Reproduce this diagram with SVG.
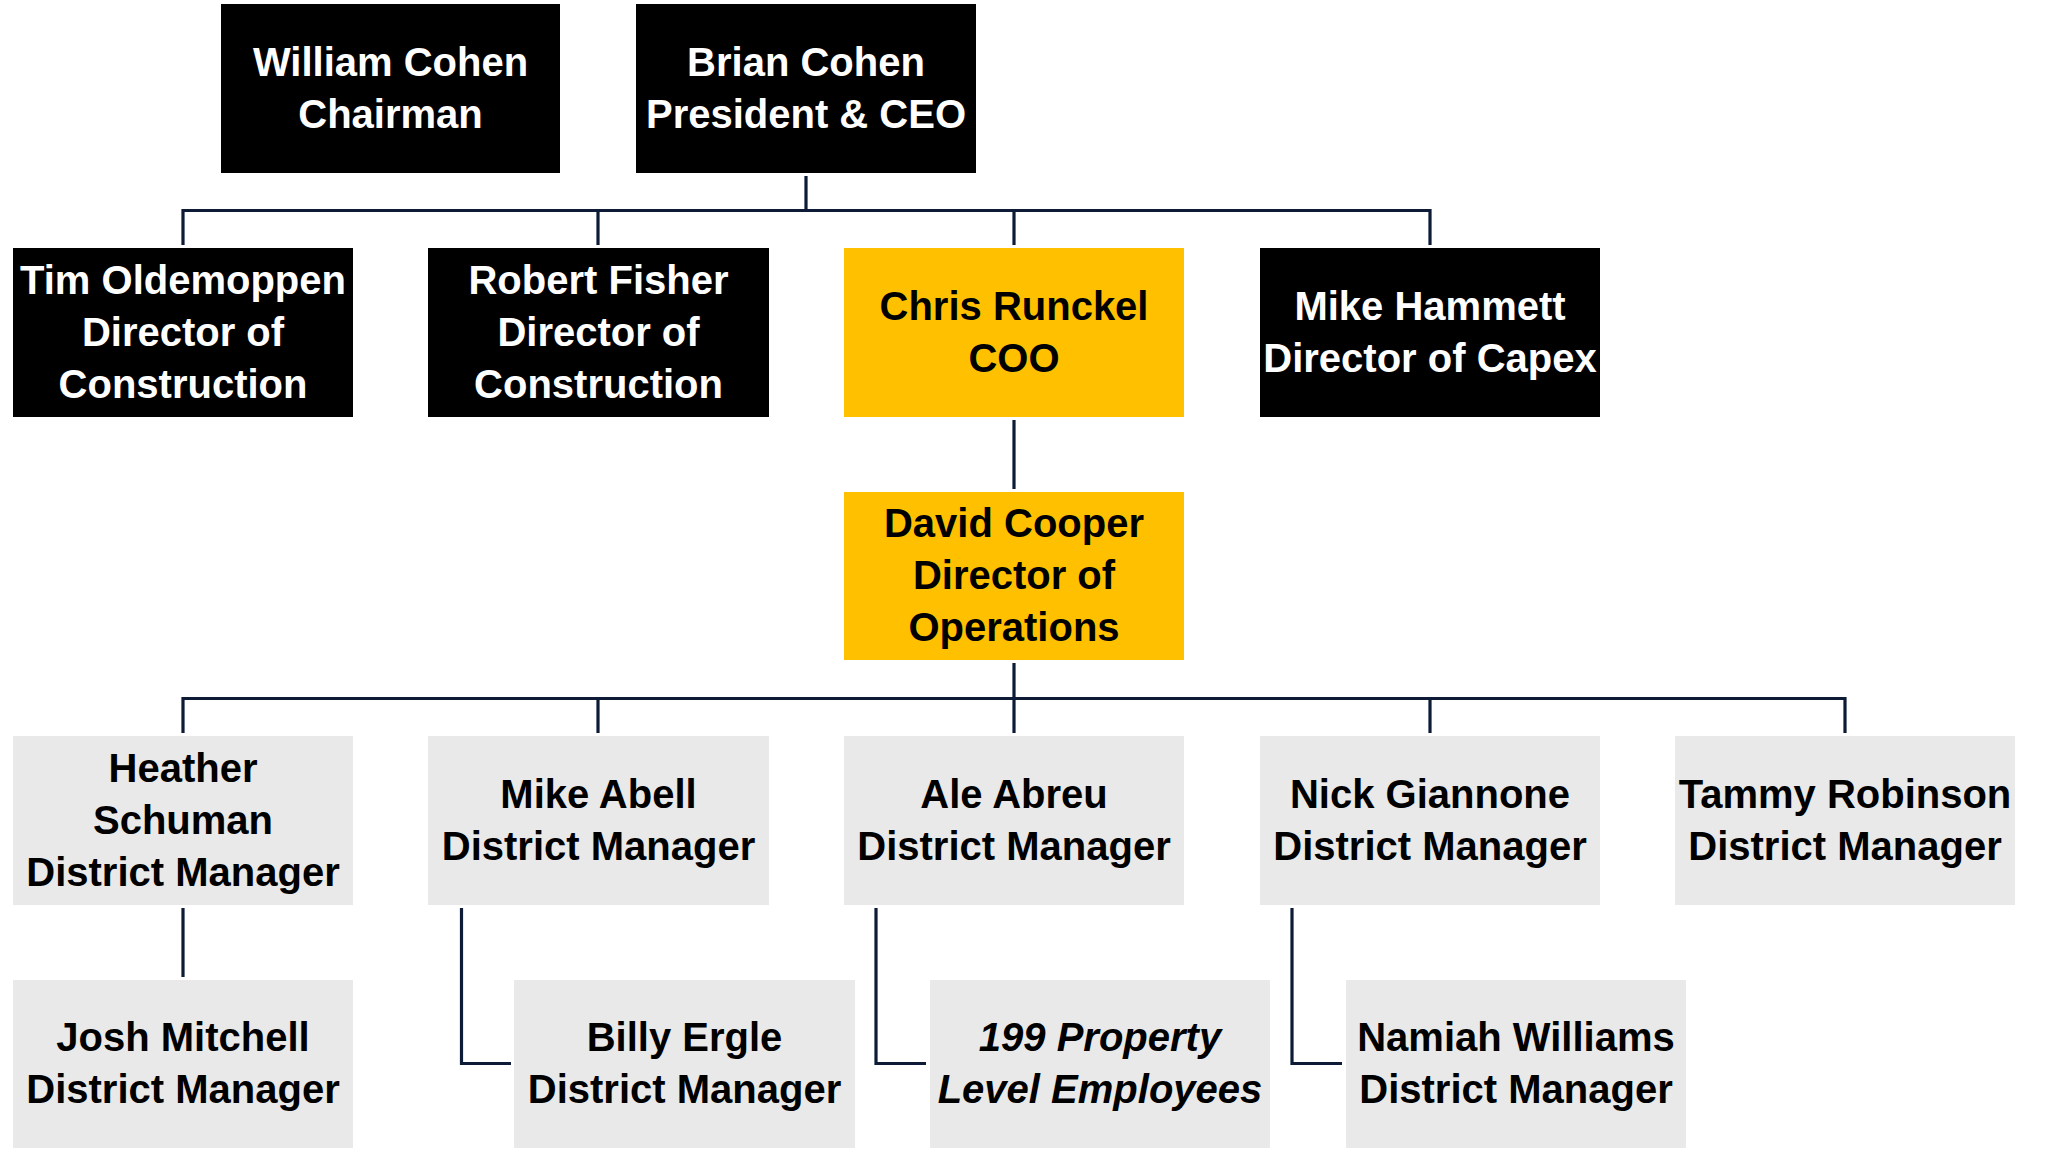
<svg xmlns="http://www.w3.org/2000/svg" width="2049" height="1152" viewBox="0 0 2049 1152">
<style>
.box{stroke:none}
.blk{fill:#000000}
.gold{fill:#FFC000}
.gray{fill:#E9E9E9}
text{font-family:"Liberation Sans",Arial,sans-serif;font-weight:bold;font-size:40px;text-anchor:middle}
.w{fill:#FFFFFF}
.k{fill:#000000}
.it{font-style:italic}
.conn{fill:none;stroke:#0D1B36;stroke-width:3.2;stroke-linejoin:miter;stroke-linecap:butt}
</style>
<rect width="2049" height="1152" fill="#FFFFFF"/>
<g id="connectors" class="conn">
<path d="M806,176 V210.5"/>
<path d="M183,245 V210.5 H1430 V245"/>
<path d="M598,210.5 V245"/>
<path d="M1014,210.5 V245"/>
<path d="M1014,420 V489"/>
<path d="M1014,663 V733"/>
<path d="M183,733 V698.5 H1845 V733"/>
<path d="M598,698.5 V733"/>
<path d="M1430,698.5 V733"/>
<path d="M183,908 V977"/>
<path d="M461.5,908 V1063.5 H511"/>
<path d="M876,908 V1063.5 H926"/>
<path d="M1292,908 V1063.5 H1342"/>
</g>
<g id="william">
<rect class="box blk" x="221" y="4" width="339" height="169"/>
<text class="w" x="390.5" y="75.5">William Cohen</text>
<text class="w" x="390.5" y="127.5">Chairman</text>
</g>
<g id="brian">
<rect class="box blk" x="636" y="4" width="340" height="169"/>
<text class="w" x="806" y="75.5">Brian Cohen</text>
<text class="w" x="806" y="127.5">President &amp; CEO</text>
</g>
<g id="tim">
<rect class="box blk" x="13" y="248" width="340" height="169"/>
<text class="w" x="183" y="293.5">Tim Oldemoppen</text>
<text class="w" x="183" y="345.5">Director of</text>
<text class="w" x="183" y="397.5">Construction</text>
</g>
<g id="robert">
<rect class="box blk" x="428" y="248" width="341" height="169"/>
<text class="w" x="598.5" y="293.5">Robert Fisher</text>
<text class="w" x="598.5" y="345.5">Director of</text>
<text class="w" x="598.5" y="397.5">Construction</text>
</g>
<g id="chris">
<rect class="box gold" x="844" y="248" width="340" height="169"/>
<text class="k" x="1014" y="319.5">Chris Runckel</text>
<text class="k" x="1014" y="371.5">COO</text>
</g>
<g id="mike-hammett">
<rect class="box blk" x="1260" y="248" width="340" height="169"/>
<text class="w" x="1430" y="319.5">Mike Hammett</text>
<text class="w" x="1430" y="371.5">Director of Capex</text>
</g>
<g id="david">
<rect class="box gold" x="844" y="492" width="340" height="168"/>
<text class="k" x="1014" y="537">David Cooper</text>
<text class="k" x="1014" y="589">Director of</text>
<text class="k" x="1014" y="641">Operations</text>
</g>
<g id="heather">
<rect class="box gray" x="13" y="736" width="340" height="169"/>
<text class="k" x="183" y="781.5">Heather</text>
<text class="k" x="183" y="833.5">Schuman</text>
<text class="k" x="183" y="885.5">District Manager</text>
</g>
<g id="mike-abell">
<rect class="box gray" x="428" y="736" width="341" height="169"/>
<text class="k" x="598.5" y="807.5">Mike Abell</text>
<text class="k" x="598.5" y="859.5">District Manager</text>
</g>
<g id="ale">
<rect class="box gray" x="844" y="736" width="340" height="169"/>
<text class="k" x="1014" y="807.5">Ale Abreu</text>
<text class="k" x="1014" y="859.5">District Manager</text>
</g>
<g id="nick">
<rect class="box gray" x="1260" y="736" width="340" height="169"/>
<text class="k" x="1430" y="807.5">Nick Giannone</text>
<text class="k" x="1430" y="859.5">District Manager</text>
</g>
<g id="tammy">
<rect class="box gray" x="1675" y="736" width="340" height="169"/>
<text class="k" x="1845" y="807.5">Tammy Robinson</text>
<text class="k" x="1845" y="859.5">District Manager</text>
</g>
<g id="josh">
<rect class="box gray" x="13" y="980" width="340" height="168"/>
<text class="k" x="183" y="1051">Josh Mitchell</text>
<text class="k" x="183" y="1103">District Manager</text>
</g>
<g id="billy">
<rect class="box gray" x="514" y="980" width="341" height="168"/>
<text class="k" x="684.5" y="1051">Billy Ergle</text>
<text class="k" x="684.5" y="1103">District Manager</text>
</g>
<g id="property">
<rect class="box gray" x="930" y="980" width="340" height="168"/>
<text class="k it" x="1100" y="1051">199 Property</text>
<text class="k it" x="1100" y="1103">Level Employees</text>
</g>
<g id="namiah">
<rect class="box gray" x="1346" y="980" width="340" height="168"/>
<text class="k" x="1516" y="1051">Namiah Williams</text>
<text class="k" x="1516" y="1103">District Manager</text>
</g>
</svg>
